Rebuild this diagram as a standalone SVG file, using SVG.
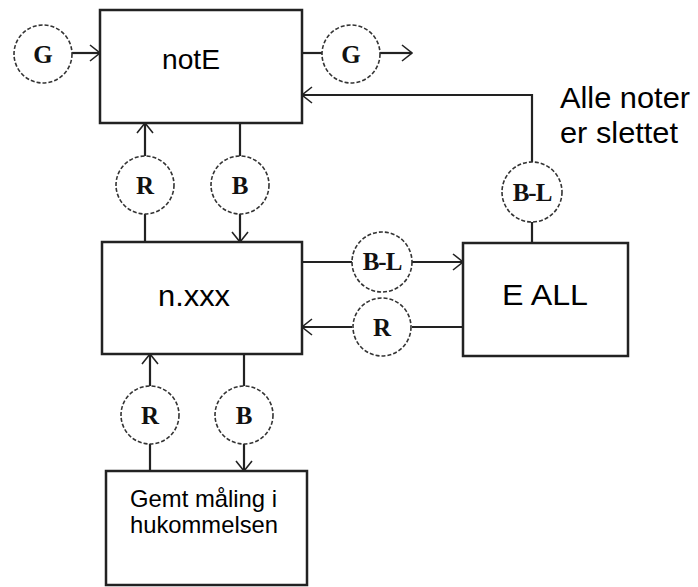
<svg xmlns="http://www.w3.org/2000/svg" width="698" height="587" viewBox="0 0 698 587">
<defs>
<marker id="ah" viewBox="0 0 12 18" refX="11" refY="9" markerWidth="12" markerHeight="18" markerUnits="userSpaceOnUse" orient="auto">
<path d="M1,1 L11,9 L1,17" fill="none" stroke="#222" stroke-width="1.6"/>
</marker>
</defs>
<style>
.box{fill:#fff;stroke:#222;stroke-width:2.5}
.c{fill:#fff;stroke:#333;stroke-width:1.6;stroke-dasharray:4 2}
.ln{fill:none;stroke:#222;stroke-width:2.2}
.t{font-family:"Liberation Sans",Arial,sans-serif;fill:#000}
.cl{font-family:"Liberation Serif","Times New Roman",serif;font-weight:bold;font-size:25px;fill:#111;text-anchor:middle}
</style>
<g id="connectors">
<line class="ln" x1="72" y1="53" x2="100" y2="53" marker-end="url(#ah)"/>
<line class="ln" x1="302" y1="53" x2="322" y2="53"/>
<line class="ln" x1="380" y1="53" x2="412" y2="53" marker-end="url(#ah)"/>
<polyline class="ln" points="532,162 532,95 302,95" marker-end="url(#ah)"/>
<line class="ln" x1="532" y1="222" x2="532" y2="243"/>
<line class="ln" x1="145" y1="242" x2="145" y2="214"/>
<line class="ln" x1="145" y1="156" x2="145" y2="123" marker-end="url(#ah)"/>
<line class="ln" x1="240" y1="123" x2="240" y2="156"/>
<line class="ln" x1="240" y1="214" x2="240" y2="242" marker-end="url(#ah)"/>
<line class="ln" x1="302" y1="262" x2="352" y2="262"/>
<line class="ln" x1="412" y1="262" x2="463" y2="262" marker-end="url(#ah)"/>
<line class="ln" x1="463" y1="327" x2="412" y2="327"/>
<line class="ln" x1="352" y1="327" x2="302" y2="327" marker-end="url(#ah)"/>
<line class="ln" x1="150" y1="471" x2="150" y2="444"/>
<line class="ln" x1="150" y1="386" x2="150" y2="354" marker-end="url(#ah)"/>
<line class="ln" x1="244" y1="354" x2="244" y2="386"/>
<line class="ln" x1="244" y1="444" x2="244" y2="471" marker-end="url(#ah)"/>
</g>
<g id="notE"><rect class="box" x="100" y="10" width="202" height="113"/><text class="t" x="162" y="69" font-size="28" textLength="58" lengthAdjust="spacingAndGlyphs">notE</text></g>
<g id="nxxx"><rect class="box" x="102" y="242" width="200" height="112"/><text class="t" x="158" y="306" font-size="30" textLength="72" lengthAdjust="spacingAndGlyphs">n.xxx</text></g>
<g id="eall"><rect class="box" x="463" y="243" width="165" height="113"/><text class="t" x="502" y="305" font-size="30" textLength="86" lengthAdjust="spacingAndGlyphs">E ALL</text></g>
<g id="gemt"><rect class="box" x="106" y="471" width="201" height="114"/><text class="t" x="130" y="507" font-size="24" textLength="147" lengthAdjust="spacingAndGlyphs">Gemt måling i</text><text class="t" x="130" y="533" font-size="24" textLength="148" lengthAdjust="spacingAndGlyphs">hukommelsen</text></g>
<g id="note"><text class="t" x="560" y="108" font-size="29" textLength="130" lengthAdjust="spacingAndGlyphs">Alle noter</text><text class="t" x="560" y="143" font-size="29" textLength="118" lengthAdjust="spacingAndGlyphs">er slettet</text></g>
<g id="g1"><circle class="c" cx="43" cy="54" r="29"/><text class="cl" x="43" y="63">G</text></g>
<g id="g2"><circle class="c" cx="351" cy="54" r="29"/><text class="cl" x="351" y="63">G</text></g>
<g id="r1"><circle class="c" cx="145" cy="185" r="29"/><text class="cl" x="145" y="194">R</text></g>
<g id="b1"><circle class="c" cx="240" cy="185" r="29"/><text class="cl" x="240" y="194">B</text></g>
<g id="bl1"><circle class="c" cx="532" cy="192" r="30"/><text class="cl" x="532" y="201" font-size="23" letter-spacing="-1">B-L</text></g>
<g id="bl2"><circle class="c" cx="382" cy="262" r="30"/><text class="cl" x="382" y="270" font-size="23" letter-spacing="-1">B-L</text></g>
<g id="r2"><circle class="c" cx="382" cy="327" r="29"/><text class="cl" x="382" y="336">R</text></g>
<g id="r3"><circle class="c" cx="150" cy="415" r="29"/><text class="cl" x="150" y="424">R</text></g>
<g id="b2"><circle class="c" cx="244" cy="415" r="29"/><text class="cl" x="244" y="424">B</text></g>
</svg>
